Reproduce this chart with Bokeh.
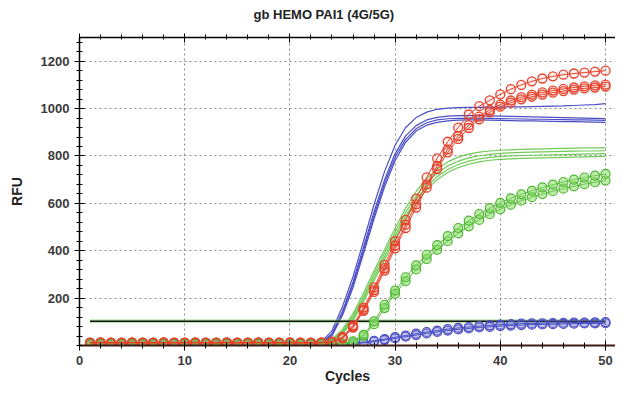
from bokeh.plotting import figure
from bokeh.models import (Range1d, LinearAxis, SingleIntervalTicker, FixedTicker,
                          CustomLabelingPolicy)
from bokeh.embed import file_html
from bokeh.resources import INLINE

# ---------------- data ----------------
cycles = list(range(1, 51))
threshold = 102

blue_line_1 = [2, 2, 2, 2, 2, 2, 2, 2, 2, 2, 2, 2, 2, 2, 2, 2, 2, 2, 2, 2,
               2, 4, 16, 62, 165, 290, 440, 595, 735, 845, 920, 962, 985, 997, 1002,
               1004, 1005, 1005, 1006, 1006, 1007, 1007, 1008, 1009, 1010, 1011, 1013, 1015, 1017, 1021]
blue_line_2 = [1, 1, 1, 1, 1, 1, 1, 1, 1, 1, 1, 1, 1, 1, 1, 1, 1, 1, 1, 1,
               1, 3, 12, 50, 145, 268, 415, 565, 700, 810, 885, 928, 952, 963, 968,
               970, 970, 970, 969, 968, 967, 966, 965, 964, 963, 962, 961, 960, 959, 958]
blue_line_3 = [1, 1, 1, 1, 1, 1, 1, 1, 1, 1, 1, 1, 1, 1, 1, 1, 1, 1, 1, 1,
               1, 3, 11, 46, 138, 258, 402, 550, 685, 795, 870, 915, 940, 952, 957,
               959, 960, 960, 959, 958, 957, 956, 955, 955, 954, 953, 952, 952, 951, 950]
blue_line_4 = [1, 1, 1, 1, 1, 1, 1, 1, 1, 1, 1, 1, 1, 1, 1, 1, 1, 1, 1, 1,
               1, 2, 9, 40, 128, 245, 388, 535, 670, 780, 858, 905, 930, 942, 948,
               951, 952, 952, 951, 950, 949, 948, 948, 947, 946, 945, 945, 944, 943, 942]

green_line_1 = [2, 2, 2, 2, 2, 2, 2, 2, 2, 2, 2, 2, 2, 2, 2, 2, 2, 2, 2, 2,
                2, 2, 8, 26, 68, 135, 222, 315, 405, 495, 580, 650, 705, 745, 775,
                795, 808, 816, 821, 824, 826, 828, 829, 830, 831, 832, 833, 834, 834, 835]
green_line_2 = [2, 2, 2, 2, 2, 2, 2, 2, 2, 2, 2, 2, 2, 2, 2, 2, 2, 2, 2, 2,
                2, 2, 7, 22, 60, 124, 208, 300, 390, 478, 562, 632, 688, 728, 758,
                778, 792, 801, 807, 811, 813, 815, 816, 817, 818, 819, 820, 821, 821, 822]
green_line_3 = [1, 1, 1, 1, 1, 1, 1, 1, 1, 1, 1, 1, 1, 1, 1, 1, 1, 1, 1, 1,
                1, 1, 6, 19, 54, 114, 196, 286, 376, 463, 546, 616, 672, 713, 743,
                764, 778, 788, 794, 798, 800, 802, 803, 804, 805, 806, 807, 808, 809, 810]
green_line_4 = [1, 1, 1, 1, 1, 1, 1, 1, 1, 1, 1, 1, 1, 1, 1, 1, 1, 1, 1, 1,
                1, 1, 5, 16, 48, 105, 185, 273, 362, 450, 532, 602, 658, 700, 730,
                751, 765, 775, 782, 786, 788, 790, 791, 792, 793, 794, 795, 796, 797, 798]

red_pts_1 = [12, 13, 12, 12, 13, 12, 12, 13, 12, 12, 13, 12, 12, 13, 12, 12, 13, 12, 12, 13,
             12, 12, 13, 16, 36, 85, 160, 245, 340, 440, 530, 620, 710, 790, 860,
             920, 975, 1010, 1035, 1060, 1082, 1100, 1115, 1127, 1136, 1143, 1148, 1152, 1156, 1160]
red_pts_2 = [11, 12, 11, 11, 12, 11, 11, 12, 11, 11, 12, 11, 11, 12, 11, 11, 12, 11, 11, 12,
             11, 11, 12, 14, 30, 76, 146, 226, 316, 410, 496, 582, 666, 745, 815,
             872, 918, 955, 984, 1008, 1025, 1039, 1050, 1059, 1067, 1074, 1080, 1085, 1089, 1093]
red_pts_3 = [12, 12, 12, 12, 12, 12, 12, 12, 12, 12, 12, 12, 12, 12, 12, 12, 12, 12, 12, 12,
             12, 12, 12, 15, 33, 80, 152, 234, 326, 422, 510, 596, 680, 758, 828,
             884, 930, 966, 994, 1017, 1034, 1048, 1059, 1068, 1076, 1083, 1089, 1094, 1098, 1101]

green_pts_1 = [8, 8, 8, 8, 8, 8, 8, 8, 8, 8, 8, 8, 8, 8, 8, 8, 8, 8, 8, 8,
               8, 8, 8, 8, 8, 18, 45, 102, 172, 232, 288, 338, 383, 424, 462,
               496, 527, 555, 580, 602, 621, 638, 653, 667, 679, 690, 700, 709, 717, 724]
green_pts_2 = [7, 7, 7, 7, 7, 7, 7, 7, 7, 7, 7, 7, 7, 7, 7, 7, 7, 7, 7, 7,
               7, 7, 7, 7, 7, 14, 38, 90, 158, 218, 272, 321, 365, 404, 440,
               473, 503, 530, 554, 575, 594, 611, 626, 639, 651, 662, 672, 681, 689, 696]

blue_pts_1 = [3, 3, 3, 3, 3, 3, 3, 3, 3, 3, 3, 3, 3, 3, 3, 3, 3, 3, 3, 3,
              3, 3, 3, 4, 6, 9, 14, 20, 27, 35, 42, 50, 57, 63, 69,
              74, 78, 82, 85, 88, 90, 92, 93, 94, 95, 96, 97, 97, 98, 99]
blue_pts_2 = [2, 2, 2, 2, 2, 2, 2, 2, 2, 2, 2, 2, 2, 2, 2, 2, 2, 2, 2, 2,
              2, 2, 2, 3, 4, 7, 11, 16, 23, 30, 37, 44, 51, 57, 63,
              68, 72, 76, 79, 82, 84, 86, 88, 89, 90, 91, 92, 93, 93, 94]

y_major_ticks = [200, 400, 600, 800, 1000, 1200]
y_minor_ticks = [0, 40, 80, 120, 160, 240, 280, 320, 360, 440, 480, 520, 560,
                 640, 680, 720, 760, 840, 880, 920, 960, 1040, 1080, 1120, 1160,
                 1240, 1280]

title_text = "gb HEMO PAI1 (4G/5G)"
x_label = "Cycles"
y_label = "RFU"

# ---------------- styles ----------------
FONT = "Liberation Sans"
BLUE = "#4b4fc4"
GREEN = "#62c545"
RED = "#e8402a"

p = figure(width=615, height=386,
           x_range=Range1d(0, 50.95), y_range=Range1d(0, 1300),
           output_backend="svg", toolbar_location=None,
           min_border_left=79, min_border_right=0,
           min_border_top=37, min_border_bottom=40)
p.outline_line_color = None
p.background_fill_color = "white"
p.border_fill_color = "white"

p.title.text = title_text
p.title.align = "left"
p.title.offset = 174
p.title.text_font = FONT
p.title.text_font_size = "13px"
p.title.text_font_style = "bold"
p.title.text_color = "#222222"
p.title.standoff = 2

xt = SingleIntervalTicker(interval=10, num_minor_ticks=5)
yt = FixedTicker(ticks=y_major_ticks, minor_ticks=y_minor_ticks)
p.xaxis.ticker = xt
p.yaxis.ticker = yt
p.xgrid.ticker = xt
p.ygrid.ticker = yt

for ax in (p.xaxis[0], p.yaxis[0]):
    ax.axis_line_color = "black"
    ax.axis_line_width = 1.5
    ax.major_tick_line_color = "black"
    ax.minor_tick_line_color = "black"
    ax.major_tick_in = 5
    ax.major_tick_out = 5
    ax.minor_tick_in = 3
    ax.minor_tick_out = 3
    ax.major_label_text_font = FONT
    ax.major_label_text_font_size = "13px"
    ax.major_label_text_font_style = "bold"
    ax.major_label_text_color = "#3a3a3a"
    ax.major_label_standoff = 5
    ax.axis_label_text_font = FONT
    ax.axis_label_text_font_size = "14px"
    ax.axis_label_text_font_style = "bold"
    ax.axis_label_text_color = "#222222"

p.xaxis.axis_label = x_label
p.yaxis.axis_label = y_label
p.xaxis.axis_label_standoff = 0
p.yaxis.axis_label_standoff = 13
p.xaxis.axis_line_color = "#3a1d14"
p.xaxis.axis_line_width = 2

no_labels = CustomLabelingPolicy(code="""
for (const i of indices) { indices.unset(i) }
return indices
""")
top = LinearAxis(ticker=SingleIntervalTicker(interval=10, num_minor_ticks=5),
                 major_label_policy=no_labels, major_label_standoff=0,
                 axis_line_color="black", axis_line_width=1.5,
                 major_tick_in=5, major_tick_out=4, minor_tick_in=2, minor_tick_out=3)
p.add_layout(top, "above")

for g in (p.xgrid[0], p.ygrid[0]):
    g.grid_line_color = "#8a8a8a"
    g.grid_line_dash = "2 3"
    g.grid_line_width = 1

# ---------------- marks ----------------
for ys in (blue_line_1, blue_line_2, blue_line_3, blue_line_4):
    p.line(cycles, ys, line_color=BLUE, line_width=1.2)
for ys in (green_line_1, green_line_2, green_line_3, green_line_4):
    p.line(cycles, ys, line_color=GREEN, line_width=1.2, line_alpha=0.9)

thr_x = [cycles[0], cycles[-1]]
p.line(thr_x, [threshold, threshold], line_color="#7fd06a", line_width=4, line_alpha=0.5)
p.line(thr_x, [threshold, threshold], line_color="#111111", line_width=1.5)

for ys, fa in ((blue_pts_2, 0.35), (blue_pts_1, 0.0)):
    p.line(cycles, ys, line_color=BLUE, line_width=1)
    p.scatter(cycles, ys, marker="circle", size=9, line_color=BLUE, line_width=1.2,
              fill_color=BLUE, fill_alpha=fa)

for ys in (green_pts_2, green_pts_1):
    p.line(cycles, ys, line_color="#4fb535", line_width=1)
    p.scatter(cycles, ys, marker="circle", size=9, line_color="#4fb535", line_width=1.2,
              fill_color="#86dc66", fill_alpha=0.55)

for ys in (red_pts_2, red_pts_3, red_pts_1):
    p.line(cycles, ys, line_color=RED, line_width=1)
    p.scatter(cycles, ys, marker="circle", size=9, line_color=RED, line_width=1.3,
              fill_color=RED, fill_alpha=0.08)

open("out.html", "w").write(file_html(p, INLINE))
